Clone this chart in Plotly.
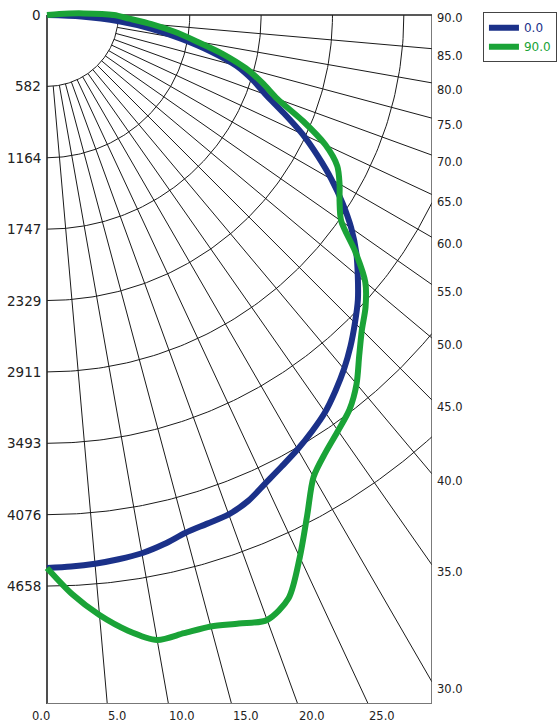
import numpy as np
import plotly.graph_objects as go

# ---------------- data ----------------
ANGLES_0 = [0, 2.5, 5, 7.5, 10, 12.5, 15, 17.5, 20, 22.5, 25, 27.5, 30, 32.5, 35, 37.5,
            40, 42.5, 45, 47.5, 50, 52.5, 55, 57.5, 60, 62.5, 65, 67.5, 70, 72.5, 75,
            77.5, 80, 82.5, 85, 87.5, 90]
CD_0 = [4511, 4503, 4493, 4478, 4458, 4420, 4372, 4350, 4335, 4290, 4215, 4150, 4090,
        4025, 3955, 3865, 3770, 3665, 3553, 3440, 3310, 3180, 3030, 2860, 2680, 2490,
        2300, 2090, 1900, 1760, 1600, 1365, 1110, 860, 590, 280, 0]

ANGLES_90 = [0, 2.5, 5, 7.5, 10, 12.5, 15, 17.5, 20, 22.5, 25, 27.5, 30, 32.5, 35, 37.5,
             40, 42.5, 45, 47.5, 50, 52.5, 55, 57.5, 60, 62.5, 65, 67.5, 70, 72.5, 75,
             77.5, 80, 82.5, 85, 87.5, 90, 92.5, 95, 97.5]
CD_90 = [4511, 4730, 4913, 5065, 5176, 5165, 5164, 5205, 5251, 5150, 4880, 4598, 4350,
         4230, 4140, 4055, 3929, 3770, 3633, 3525, 3390, 3170, 2930, 2830, 2756, 2670,
         2506, 2260, 2000, 1843, 1679, 1470, 1240, 1050, 855, 670, 545, 300, 100, 0]

SERIES_NAMES = ["0.0", "90.0"]
SERIES_COLORS = ["#1b3189", "#1aa337"]

RADIAL_TICKS = [0, 582.25, 1164.5, 1746.75, 2329.0, 2911.25, 3493.5, 4075.75, 4658.0]
RADIAL_LABELS = ["0", "582", "1164", "1747", "2329", "2911", "3493", "4076", "4658"]
RIGHT_ANGLES = [90, 85, 80, 75, 70, 65, 60, 55, 50, 45, 40, 35, 30]
BOTTOM_ANGLES = [0, 5, 10, 15, 20, 25]
GRID_ANGLES = [0, 5, 10, 15, 20, 25, 30, 35, 40, 45, 50, 55, 60, 65, 70, 75, 80, 85, 90]

# axis extent (cd) of the framed region
X_MAX = 3141.0
Y_MAX = 5620.0
PX_PER_CD = 0.122585


def polar_xy(ang_deg, r):
    a = np.radians(np.asarray(ang_deg, dtype=float))
    r = np.asarray(r, dtype=float)
    return r * np.sin(a), -r * np.cos(a)


fig = go.Figure()

# ---------------- grid ----------------
gx, gy = [], []
for ang in GRID_ANGLES[1:-1]:
    a = np.radians(ang)
    r0 = RADIAL_TICKS[1]
    r1 = min(X_MAX / np.sin(a), Y_MAX / np.cos(a))
    x, y = polar_xy([ang, ang], [r0, r1])
    gx += list(x) + [None]
    gy += list(y) + [None]
for r in RADIAL_TICKS[1:]:
    amax = 90.0 if r <= X_MAX else np.degrees(np.arcsin(X_MAX / r))
    angs = np.linspace(0, amax, 120)
    x, y = polar_xy(angs, np.full_like(angs, r))
    gx += list(x) + [None]
    gy += list(y) + [None]
fig.add_trace(go.Scatter(x=gx, y=gy, mode="lines", line=dict(color="#1a1a1a", width=1),
                         hoverinfo="skip", showlegend=False))

# frame
fig.add_trace(go.Scatter(x=[0, 0], y=[0, -Y_MAX], mode="lines",
                         line=dict(color="#222222", width=1.6), hoverinfo="skip", showlegend=False))
fig.add_trace(go.Scatter(x=[0, X_MAX], y=[0, 0], mode="lines",
                         line=dict(color="#222222", width=1.4), hoverinfo="skip", showlegend=False))
fig.add_trace(go.Scatter(x=[X_MAX, X_MAX], y=[0, -Y_MAX], mode="lines",
                         line=dict(color="#444444", width=1.4), hoverinfo="skip", showlegend=False))
fig.add_trace(go.Scatter(x=[0, X_MAX], y=[-Y_MAX, -Y_MAX], mode="lines",
                         line=dict(color="#777777", width=2), hoverinfo="skip", showlegend=False))

# ---------------- curves ----------------
for angs, cds, name, col in [(ANGLES_0, CD_0, SERIES_NAMES[0], SERIES_COLORS[0]),
                             (ANGLES_90, CD_90, SERIES_NAMES[1], SERIES_COLORS[1])]:
    x, y = polar_xy(angs, cds)
    fig.add_trace(go.Scatter(
        x=x, y=y, mode="lines",
        line=dict(color=col, width=6, shape="spline", smoothing=0.8),
        name=f"<span style='color:{col}'>{name}</span>",
        hoverinfo="skip"))

# ---------------- labels ----------------
annots = []
for v, lab in zip(RADIAL_TICKS, RADIAL_LABELS):
    annots.append(dict(x=0, y=-v, text=lab, showarrow=False, xanchor="right", yanchor="middle",
                       xshift=-4, font=dict(family="DejaVu Sans", size=13.5, color="#222222")))
for ang in RIGHT_ANGLES:
    yv = 0.0 if ang == 90 else -X_MAX / np.tan(np.radians(ang))
    annots.append(dict(x=X_MAX, y=yv, text=f"{ang:.1f}", showarrow=False, xanchor="left",
                       yanchor="middle", xshift=3, yshift=-3 if ang == 90 else -7,
                       font=dict(family="DejaVu Sans", size=11.5, color="#222222")))
for ang in BOTTOM_ANGLES:
    xv = Y_MAX * np.tan(np.radians(ang))
    annots.append(dict(x=xv, y=-Y_MAX, text=f"{ang:.1f}", showarrow=False,
                       xanchor="center" if ang == 0 else "left", yanchor="top",
                       xshift=-6 if ang == 0 else -1, yshift=-3,
                       font=dict(family="DejaVu Sans", size=11.5, color="#222222")))

fig.update_layout(
    width=557, height=722, autosize=False,
    margin=dict(l=43, r=125, t=8, b=18, pad=0, autoexpand=False),
    paper_bgcolor="white", plot_bgcolor="white",
    xaxis=dict(range=[-4 / PX_PER_CD, X_MAX], visible=False, fixedrange=True),
    yaxis=dict(range=[-Y_MAX, 7 / PX_PER_CD], visible=False, fixedrange=True),
    annotations=annots,
    showlegend=True,
    legend=dict(x=1.131, y=0.994, xanchor="left", yanchor="top",
                bordercolor="#444444", borderwidth=1, bgcolor="white",
                font=dict(family="DejaVu Sans", size=12),
                itemwidth=30, tracegroupgap=0),
)

fig.write_html("out.html", config={"displayModeBar": False},
               post_script="document.body.style.margin='0';document.body.style.overflow='hidden';")
